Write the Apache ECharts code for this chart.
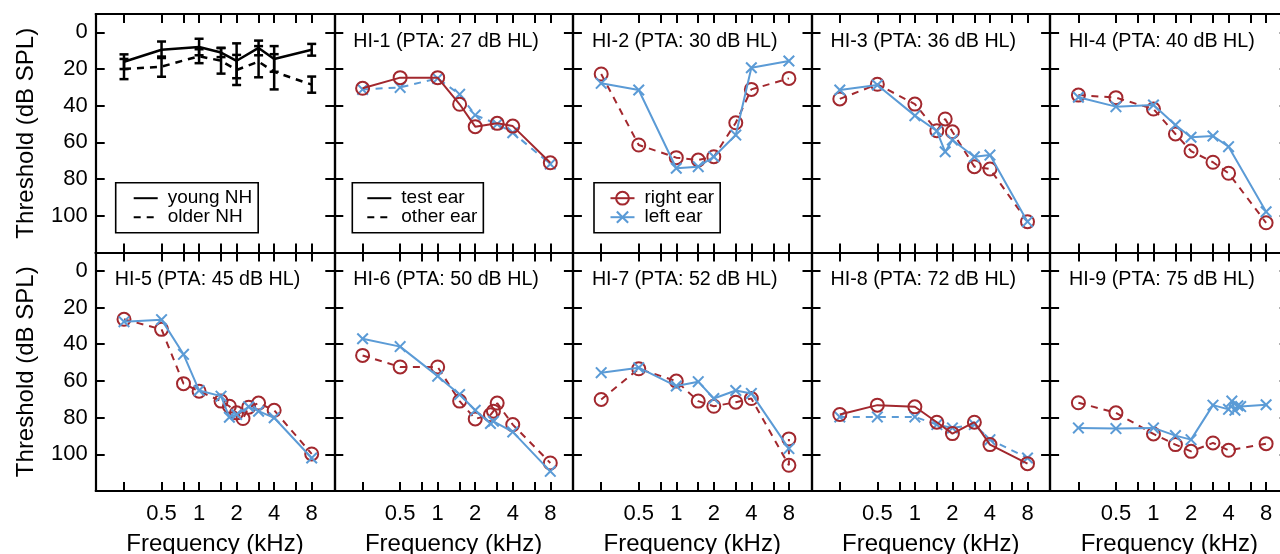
<!DOCTYPE html>
<html>
<head>
<meta charset="utf-8">
<script src="https://cdn.jsdelivr.net/npm/echarts@6.0.0/dist/echarts.min.js"></script>
<style>
html,body{margin:0;padding:0;background:#fff;}
#chart{width:1280px;height:554px;}
</style>
</head>
<body>
<div id="chart"></div>
<script>
// frequencies in kHz
let freqStd = [0.25, 0.5, 1, 1.5, 2, 3, 4, 8]
let tickFreqs = [0.25, 0.5, 0.75, 1, 1.5, 2, 3, 4, 6, 8]
let labelFreqs = [0.5, 1, 2, 4, 8]
let yTicks = [0, 20, 40, 60, 80, 100]

// normal hearing groups (mean, sd), dB SPL
let youngNH = [16, 9.5, 8, 11, 15.5, 8.5, 14.5, 9.5]
let youngNHsd = [4, 4.5, 4.5, 2.5, 9.5, 4, 7, 3.2]
let olderNH = [20, 18.7, 13, 15.5, 20.5, 16, 21.5, 28.5]
let olderNHsd = [5.5, 5.5, 3.8, 7, 8.2, 8.5, 9.6, 4.4]

// hearing impaired listeners
let hi1Right = [30.5, 24.7, 24.7, 39.2, 51.4, 49.6, 51.1, 71.1]
let hi1Left = [31.1, 30, 25.1, 33.8, 45.1, 50, 54.7, 71.8]

let hi2Right = [22.7, 61.4, 68.3, 69.6, 67.8, 49.3, 31.1, 25.1]
let hi2Left = [27.8, 31.4, 74.1, 73.2, 67.8, 56, 19.3, 15.6]

let hi3Freq = [0.25, 0.5, 1, 1.5, 1.75, 2, 3, 4, 8]
let hi3Right = [36.3, 28.3, 39.1, 53.6, 47.2, 54.2, 73.2, 74.5, 103.2]
let hi3Left = [31.4, 28.7, 45.4, 53.8, 65.1, 58.7, 67.8, 66.9, 103.2]

let hi4Right = [34.2, 35.6, 41.8, 55.4, 64.7, 70.8, 76.8, 103.8]
let hi4Left = [35.4, 40.5, 39.6, 50.5, 57.2, 56.5, 62.3, 97.8]

let hi5RightFreq = [0.25, 0.5, 0.75, 1, 1.5, 1.75, 2, 2.25, 2.5, 3, 4, 8]
let hi5Right = [26.4, 31.9, 61.5, 65.6, 71, 73.8, 77.4, 80.5, 74.3, 72.1, 76, 99.8]
let hi5LeftFreq = [0.25, 0.5, 0.75, 1, 1.5, 1.75, 2, 2.5, 3, 4, 8]
let hi5Left = [27.7, 26.6, 45.5, 65.2, 68.3, 79.8, 78.3, 74.1, 76.5, 80.1, 102]

let hi6RightFreq = [0.25, 0.5, 1, 1.5, 2, 2.65, 2.8, 3, 4, 8]
let hi6Right = [46.1, 52.4, 52.4, 71, 80.7, 78.5, 76.5, 72.1, 83.8, 104.7]
let hi6LeftFreq = [0.25, 0.5, 1, 1.5, 2, 2.65, 2.8, 4, 8]
let hi6Left = [37, 41.3, 57.4, 67.4, 76, 83.2, 82, 87.8, 109.3]

let hi7RightFreq = [0.25, 0.5, 1, 1.5, 2, 3, 4, 8, 8]
let hi7Right = [70.1, 53.4, 60.1, 71, 73.8, 71.6, 69.6, 106, 91.6]
let hi7Left = [55.5, 52.8, 62.8, 60.4, 69.6, 65.2, 66.8, 96.9]

let hi8Right = [78.3, 73.2, 74.1, 82.5, 88.7, 82.5, 94.7, 105.1]
let hi8Left = [79.6, 79.6, 79.6, 83.8, 85.6, 83.8, 92, 102]

let hi9Right = [71.9, 77.4, 88.9, 94.7, 98.4, 93.8, 97.8, 94.2]
let hi9LeftFreq = [0.25, 0.5, 1, 1.5, 2, 3, 4, 4.25, 4.5, 4.75, 5, 8]
let hi9Left = [85.6, 86, 85.6, 89.8, 92, 73.2, 75.5, 71, 76, 73.5, 74, 73]

let panelTitles = ['HI-1 (PTA: 27 dB HL)', 'HI-2 (PTA: 30 dB HL)', 'HI-3 (PTA: 36 dB HL)',
    'HI-4 (PTA: 40 dB HL)', 'HI-5 (PTA: 45 dB HL)', 'HI-6 (PTA: 50 dB HL)',
    'HI-7 (PTA: 52 dB HL)', 'HI-8 (PTA: 72 dB HL)', 'HI-9 (PTA: 75 dB HL)']
let rightFreqs = [freqStd, freqStd, hi3Freq, freqStd, hi5RightFreq, hi6RightFreq, hi7RightFreq, freqStd, freqStd]
let rightData = [hi1Right, hi2Right, hi3Right, hi4Right, hi5Right, hi6Right, hi7Right, hi8Right, hi9Right]
let leftFreqs = [freqStd, freqStd, hi3Freq, freqStd, hi5LeftFreq, hi6LeftFreq, freqStd, freqStd, hi9LeftFreq]
let leftData = [hi1Left, hi2Left, hi3Left, hi4Left, hi5Left, hi6Left, hi7Left, hi8Left, hi9Left]
let testEar = ['right', 'left', 'left', 'left', 'left', 'left', 'left', 'right', 'left']

const RED = '#a2282e'
const BLUE = '#5b9bd6'
const NOFILL = 'rgba(0,0,0,0)'
const FONT = 'Liberation Sans, Arial, sans-serif'
const X_SYMBOL = 'path://M0,1.2L1.2,0L5,3.8L8.8,0L10,1.2L6.2,5L10,8.8L8.8,10L5,6.2L1.2,10L0,8.8L3.8,5Z'
const DASH = [7, 6]

// panel layout
let panelLeft = 95.7, panelTop = 14, panelW = 238.6, panelH = 238.5
let xMin = Math.log2(0.25) - 0.754, xMax = Math.log2(8) + 0.602

let grids = [], xAxes = [], yAxes = [], titles = [], series = []
let axisLine = {show: true, onZero: false, lineStyle: {color: '#000', width: 2.2}}
let tickStyle = {color: '#000', width: 2}

for (let i = 0; i < 10; i++) {
    let row = Math.floor(i / 5), col = i % 5
    let left = panelLeft + col * panelW
    let top = panelTop + row * panelH
    grids.push({left: left, top: top, width: panelW, height: panelH, outerBoundsMode: 'none'})
    // bottom + top x axes
    for (let k = 0; k < 2; k++) {
        let bottom = k === 0
        xAxes.push({
            type: 'value', gridIndex: i, position: bottom ? 'bottom' : 'top',
            min: xMin, max: xMax,
            axisLine: axisLine,
            axisTick: {show: true, inside: true, length: 9, lineStyle: tickStyle,
                customValues: tickFreqs.map(f => Math.log2(f))},
            axisLabel: {show: bottom && row === 1, customValues: labelFreqs.map(f => Math.log2(f)),
                formatter: v => String(+Math.pow(2, v).toFixed(2)),
                fontSize: 22, color: '#000', margin: 12, fontFamily: FONT},
            splitLine: {show: false},
            name: bottom && row === 1 ? 'Frequency (kHz)' : '',
            nameLocation: 'middle', nameGap: 41,
            nameTextStyle: {fontSize: 24, color: '#000', fontFamily: FONT}
        })
    }
    // left + right y axes
    for (let k = 0; k < 2; k++) {
        let leftSide = k === 0
        yAxes.push({
            type: 'value', gridIndex: i, position: leftSide ? 'left' : 'right',
            inverse: true, min: -10, max: 120,
            axisLine: axisLine,
            axisTick: {show: true, inside: true, length: 9, lineStyle: tickStyle, customValues: yTicks},
            axisLabel: {show: leftSide && col === 0, customValues: yTicks,
                fontSize: 22, color: '#000', margin: 8, fontFamily: FONT},
            splitLine: {show: false},
            name: leftSide && col === 0 ? 'Threshold (dB SPL)' : '',
            nameLocation: 'middle', nameGap: 57,
            nameTextStyle: {fontSize: 24, color: '#000', fontFamily: FONT}
        })
    }
    if (i > 0) {
        titles.push({
            text: panelTitles[i - 1], left: left + 19, top: top + 17, padding: 0,
            textStyle: {fontSize: 19.7, lineHeight: 21, fontWeight: 'normal', color: '#000', fontFamily: FONT}
        })
    }
}

// 误差线
function errorSeries(name, mean, sd) {
    return {
        type: 'custom', name: name, xAxisIndex: 0, yAxisIndex: 0, z: 3,
        data: freqStd.map((f, k) => [Math.log2(f), mean[k] - sd[k], mean[k] + sd[k]]),
        encode: {x: 0, y: [1, 2]},
        renderItem: function (params, api) {
            let lo = api.coord([api.value(0), api.value(1)])
            let hi = api.coord([api.value(0), api.value(2)])
            let w = 4.5
            let style = {stroke: '#000', lineWidth: 2.5}
            return {type: 'group', children: [
                {type: 'line', shape: {x1: lo[0], y1: lo[1], x2: hi[0], y2: hi[1]}, style: style},
                {type: 'line', shape: {x1: lo[0] - w, y1: lo[1], x2: lo[0] + w, y2: lo[1]}, style: style},
                {type: 'line', shape: {x1: hi[0] - w, y1: hi[1], x2: hi[0] + w, y2: hi[1]}, style: style}
            ]}
        }
    }
}

series.push({
    type: 'line', name: 'young NH', xAxisIndex: 0, yAxisIndex: 0, symbol: 'none', z: 4,
    itemStyle: {color: NOFILL, borderWidth: 0},
    lineStyle: {color: '#000', width: 2.5},
    data: freqStd.map((f, k) => [Math.log2(f), youngNH[k]])
})
series.push({
    type: 'line', name: 'older NH', xAxisIndex: 0, yAxisIndex: 0, symbol: 'none', z: 4,
    itemStyle: {color: NOFILL, borderWidth: 0},
    lineStyle: {color: '#000', width: 2.5, type: DASH},
    data: freqStd.map((f, k) => [Math.log2(f), olderNH[k]])
})
series.push(errorSeries('young NH err', youngNH, youngNHsd))
series.push(errorSeries('older NH err', olderNH, olderNHsd))

function earSeries(ear, idx, solid) {
    let isRight = ear === 'right'
    let freqs = isRight ? rightFreqs[idx] : leftFreqs[idx]
    let vals = isRight ? rightData[idx] : leftData[idx]
    let color = isRight ? RED : BLUE
    return {
        type: 'line', name: panelTitles[idx] + ' ' + ear,
        xAxisIndex: 2 * (idx + 1), yAxisIndex: 2 * (idx + 1),
        symbol: isRight ? 'circle' : X_SYMBOL,
        symbolSize: isRight ? 13 : 12,
        itemStyle: isRight ? {color: NOFILL, borderColor: RED, borderWidth: 2}
            : {color: BLUE, borderWidth: 0},
        lineStyle: {color: color, width: 2, type: solid ? 'solid' : DASH},
        z: solid ? 4 : 3,
        data: freqs.map((f, k) => [Math.log2(f), vals[k]])
    }
}

for (let i = 0; i < 9; i++) {
    let test = testEar[i], other = test === 'right' ? 'left' : 'right'
    series.push(earSeries(other, i, false))
    series.push(earSeries(test, i, true))
}

// legend only series
series.push({type: 'line', name: 'test ear', xAxisIndex: 2, yAxisIndex: 2, symbol: 'none', data: [],
    itemStyle: {color: NOFILL, borderWidth: 0},
    lineStyle: {color: '#000', width: 2.5}})
series.push({type: 'line', name: 'other ear', xAxisIndex: 2, yAxisIndex: 2, symbol: 'none', data: [],
    itemStyle: {color: NOFILL, borderWidth: 0},
    lineStyle: {color: '#000', width: 2.5, type: DASH}})
series.push({type: 'line', name: 'right ear', xAxisIndex: 4, yAxisIndex: 4, data: [],
    symbol: 'circle', symbolSize: 13,
    itemStyle: {color: NOFILL, borderColor: RED, borderWidth: 2},
    lineStyle: {color: RED, width: 2}})
series.push({type: 'line', name: 'left ear', xAxisIndex: 4, yAxisIndex: 4, data: [],
    symbol: X_SYMBOL, symbolSize: 12, itemStyle: {color: BLUE, borderWidth: 0},
    lineStyle: {color: BLUE, width: 2}})

function legendBox(names, left, padLeft) {
    return {
        data: names, orient: 'vertical', left: left, top: 182.7,
        padding: [6, 6, 6, padLeft], itemGap: 0, itemWidth: 24, itemHeight: 16,
        borderColor: '#000', borderWidth: 1.6, selectedMode: false,
        textStyle: {fontSize: 19, lineHeight: 19, color: '#000', fontFamily: FONT, padding: [0, 0, 0, 5]}
    }
}

let chart = echarts.init(document.getElementById('chart'))
chart.setOption({
    animation: false,
    textStyle: {fontFamily: FONT},
    title: titles,
    grid: grids,
    xAxis: xAxes,
    yAxis: yAxes,
    legend: [
        legendBox(['young NH', 'older NH'], 115.7, 17),
        legendBox(['test ear', 'other ear'], 352.3, 14),
        legendBox(['right ear', 'left ear'], 594, 15.5)
    ],
    series: series
})
</script>
</body>
</html>
